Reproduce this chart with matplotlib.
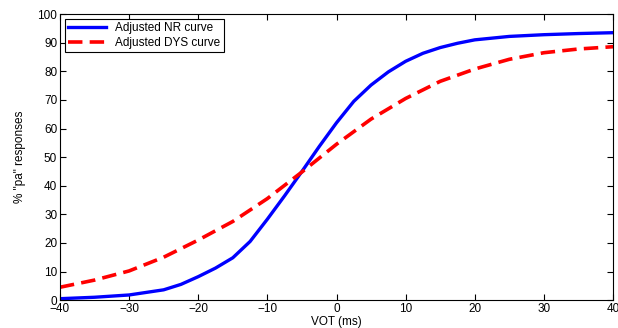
import matplotlib
matplotlib.use('Agg')
import matplotlib.pyplot as plt

plt.rcParams['font.family'] = ['Liberation Sans', 'DejaVu Sans']

# VOT values (ms) and % "pa" responses
vot_nr = [-40, -35, -30, -25, -22.5, -20, -17.5, -15, -12.5, -10, -7.5, -5,
          -2.5, 0, 2.5, 5, 7.5, 10, 12.5, 15, 17.5, 20, 25, 30, 35, 40]
pa_nr = [0.5, 1.0, 1.8, 3.6, 5.5, 8.2, 11.2, 14.8, 20.5, 28.3, 36.5, 45,
         53.7, 62, 69.5, 75.2, 79.8, 83.5, 86.3, 88.3, 89.8, 91, 92.2, 92.8, 93.2, 93.5]

vot_dys = [-40, -35, -30, -25, -20, -15, -10, -5, 0, 5, 10, 15, 20, 25, 30, 35, 40]
pa_dys = [4.5, 7, 10.2, 15, 21, 27.5, 35.5, 44.8, 54.5, 63.3, 70.5, 76.5, 80.8,
          84.2, 86.5, 87.8, 88.6]

xticks = [-40, -30, -20, -10, 0, 10, 20, 30, 40]
yticks = [0, 10, 20, 30, 40, 50, 60, 70, 80, 90, 100]

fig = plt.figure(figsize=(6.18, 3.28), dpi=100)
ax = fig.add_axes([0.097, 0.085, 0.895, 0.872])

ax.plot(vot_nr, pa_nr, color='#0000ff', lw=2.4, label='Adjusted NR curve')
ax.plot(vot_dys, pa_dys, color='#ff0000', lw=2.6, ls=(0, (4, 2)),
        label='Adjusted DYS curve')

ax.set_xlim(-40, 40)
ax.set_ylim(0, 100)
ax.set_xticks(xticks)
ax.set_yticks(yticks)
ax.tick_params(direction='in', top=True, right=True, labelsize=8.5,
               length=4, width=0.8, pad=2)
for s in ax.spines.values():
    s.set_linewidth(0.8)

ax.set_xlabel('VOT (ms)', fontsize=8.5, labelpad=1)
ax.set_ylabel('% "pa" responses', fontsize=8.5, labelpad=8)

leg = ax.legend(loc='upper left', fontsize=8.5, fancybox=False,
                edgecolor='black', framealpha=1, handlelength=3.2,
                borderpad=0.3, labelspacing=0.2, borderaxespad=0.4)
leg.get_frame().set_linewidth(0.8)

fig.savefig('out.png', dpi=100)
